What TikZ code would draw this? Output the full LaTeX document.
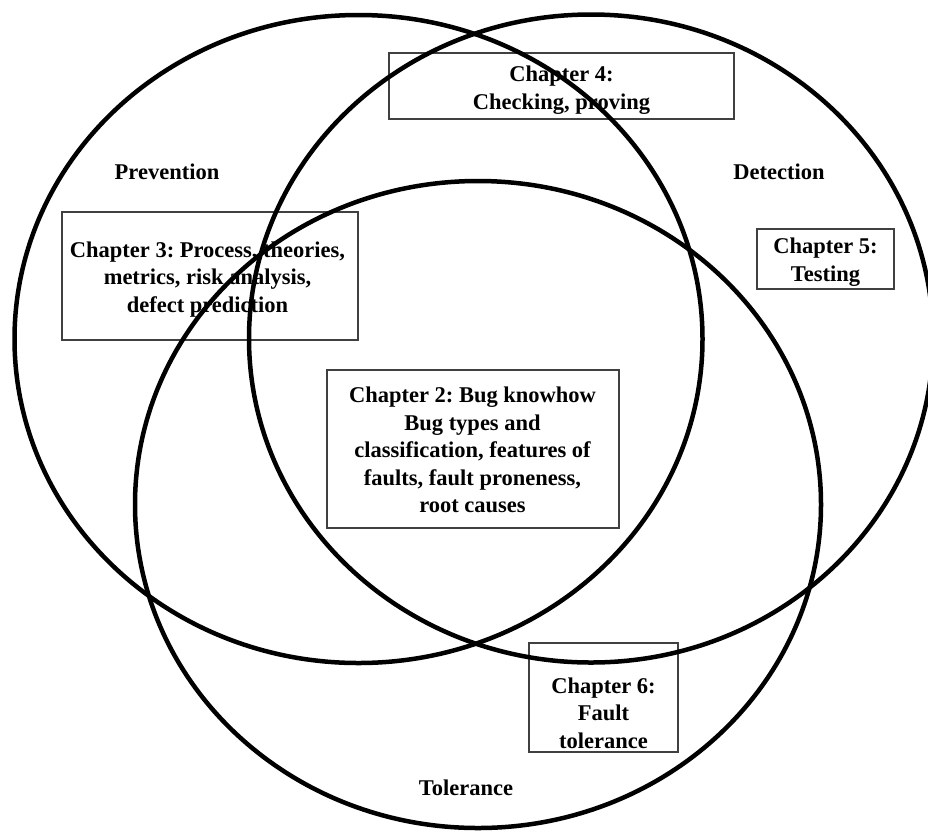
\documentclass[tikz,border=0pt]{standalone}
\usepackage{fontspec}
\setmainfont{Liberation Serif}
\usetikzlibrary{shapes.geometric}
\frenchspacing
\begin{document}
\begin{tikzpicture}[x=1pt,y=-1pt,
  ring/.style={draw=black, ellipse, line width=4.5pt, inner sep=0pt, outer sep=0pt, minimum width=688pt, minimum height=648pt},
  chbox/.style={draw=black!75, line width=1.3pt, rectangle, inner sep=0pt},
  lbl/.style={align=center, inner sep=0pt, font=\bfseries\fontsize{22.5}{27.5}\selectfont\frenchspacing}]
\useasboundingbox[fill=white] (0,0) rectangle (928,831);
% chapter boxes
\node[chbox, minimum width=296pt, minimum height=128pt] (c3) at (210,276) {};
\node[chbox, minimum width=345pt, minimum height=66pt] (c4) at (561.5,86) {};
\node[chbox, minimum width=137pt, minimum height=60pt] (c5) at (825.5,259) {};
\node[chbox, minimum width=292pt, minimum height=158pt] (c2) at (473,449) {};
\node[chbox, minimum width=149pt, minimum height=109pt] (c6) at (603.5,697.5) {};
% chapter texts
\node[lbl] (c3t) at (207.5,279.3) {Chapter 3: Process, theories,\\metrics, risk analysis,\\defect prediction};
\node[lbl] (c4t) at (561.5,90.3) {Chapter 4:\\Checking, proving};
\node[lbl] (c5t) at (825.5,262.3) {Chapter 5:\\Testing};
\node[lbl] (c2t) at (472.5,450) {Chapter 2: Bug knowhow\\Bug types and\\classification, features of\\faults, fault proneness,\\root causes};
\node[lbl] (c6t) at (603.5,713) {Chapter 6:\\Fault\\tolerance};
% set labels
\node[lbl, anchor=base] (prev) at (167,179) {Prevention};
\node[lbl, anchor=base] (det) at (779,179) {Detection};
\node[lbl, anchor=base] (tol) at (466,795) {Tolerance};
% ellipses
\node[ring] (eprev) at (358.5,339) {};
\node[ring, minimum width=684pt] (edet) at (591,338.5) {};
\node[ring, minimum width=686pt, minimum height=647pt] (etol) at (478,504.5) {};
\end{tikzpicture}
\end{document}
